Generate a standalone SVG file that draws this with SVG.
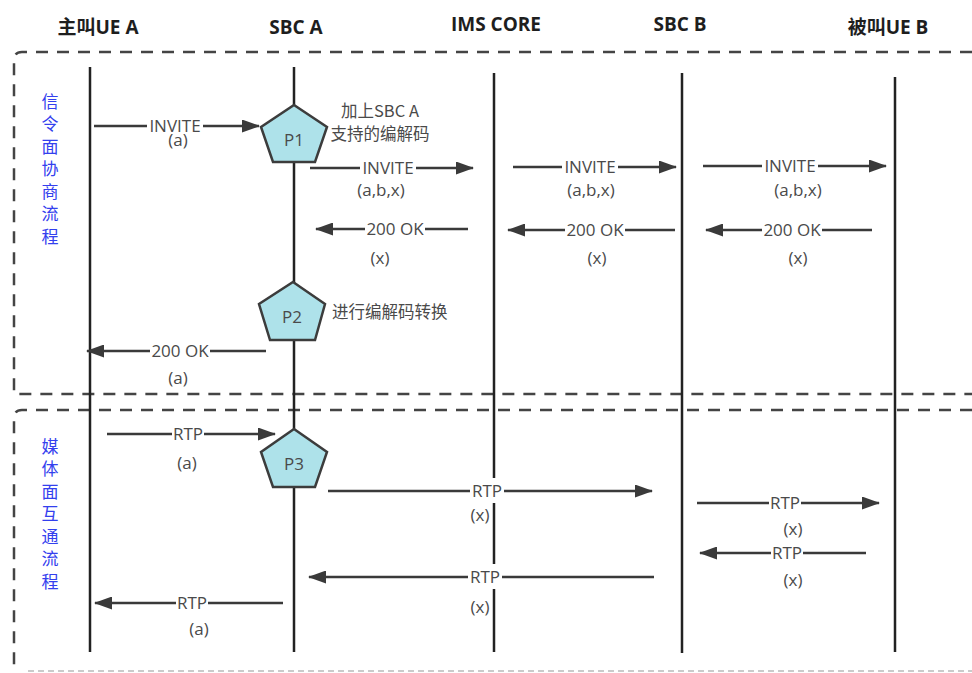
<svg xmlns="http://www.w3.org/2000/svg" width="972" height="673" viewBox="0 0 972 673">
<style>
.hd{font-family:"Open Sans","Noto Sans CJK SC",sans-serif;font-weight:bold;font-size:19px;fill:#1e1e1e;text-anchor:middle}
.lb{font-family:"Open Sans","Noto Sans CJK SC",sans-serif;font-size:17px;fill:#4a4a4a;text-anchor:middle}
.cn{font-family:"Noto Sans CJK SC",sans-serif;font-size:16.5px;fill:#4a4a4a}
.side{font-family:"Noto Sans CJK SC",sans-serif;font-size:17px;fill:#3340ee;writing-mode:vertical-rl;letter-spacing:5.5px}
.life{stroke:#222;stroke-width:2.5;fill:none}
.box{stroke:#444;stroke-width:2.5;fill:none;stroke-dasharray:12 9}
.ar{stroke:#3a3a3a;stroke-width:2.5;fill:none;marker-end:url(#ah)}
.bg{fill:#fff}
.pent{fill:#aee2ea;stroke:#3c3c3c;stroke-width:2.5;stroke-linejoin:miter}
.pt{font-family:"Open Sans",sans-serif;font-size:17px;fill:#4a4a4a;text-anchor:middle}
</style>
<defs>
<marker id="ah" markerWidth="18" markerHeight="13" refX="17" refY="6.5" orient="auto" markerUnits="userSpaceOnUse">
<path d="M0,0 L18,6.5 L0,13 z" fill="#3a3a3a"/>
</marker>
</defs>
<rect width="972" height="673" fill="#fff"/>

<g id="frames">
<path class="box" d="M972,52 H22 Q14,52 14,60 V394 H972"/>
<path class="box" d="M972,410 H22 Q14,410 14,418 V673"/>
<path d="M28,671 H972" stroke="#bbb" stroke-width="1.5" stroke-dasharray="6 4" fill="none"/>
<text class="side" x="50" y="93">信令面协商流程</text>
<text class="side" x="50" y="438">媒体面互通流程</text>
</g>

<g id="ueA"><text class="hd" x="98" y="34">主叫UE A</text><line class="life" x1="90" y1="67" x2="90" y2="652"/></g>
<g id="sbcA"><text class="hd" x="296" y="34">SBC A</text><line class="life" x1="294" y1="67" x2="294" y2="652"/></g>
<g id="ims"><text class="hd" x="496" y="31">IMS CORE</text><line class="life" x1="494" y1="73" x2="494" y2="652"/></g>
<g id="sbcB"><text class="hd" x="680" y="31">SBC B</text><line class="life" x1="682" y1="73" x2="682" y2="653"/></g>
<g id="ueB"><text class="hd" x="888" y="34">被叫UE B</text><line class="life" x1="895" y1="77" x2="895" y2="652"/></g>

<g id="connectors">
<line class="ar" x1="94" y1="126" x2="259" y2="126"/>
<rect class="bg" x="147" y="118" width="56" height="16"/>
<text class="lb" x="175" y="132">INVITE</text>
<text class="lb" x="178" y="146">(a)</text>

<line class="ar" x1="310" y1="168" x2="473" y2="168"/>
<rect class="bg" x="360" y="160" width="56" height="16"/>
<text class="lb" x="388" y="174">INVITE</text>
<text class="lb" x="381" y="196">(a,b,x)</text>

<line class="ar" x1="513" y1="167" x2="676" y2="167"/>
<rect class="bg" x="562" y="159" width="56" height="16"/>
<text class="lb" x="590" y="173">INVITE</text>
<text class="lb" x="591" y="196">(a,b,x)</text>

<line class="ar" x1="703" y1="166" x2="886" y2="166"/>
<rect class="bg" x="762" y="158" width="56" height="16"/>
<text class="lb" x="790" y="172">INVITE</text>
<text class="lb" x="798" y="196">(a,b,x)</text>

<line class="ar" x1="872" y1="230" x2="706" y2="230"/>
<rect class="bg" x="762" y="222" width="60" height="16"/>
<text class="lb" x="792" y="236">200 OK</text>
<text class="lb" x="798" y="264">(x)</text>

<line class="ar" x1="675" y1="230" x2="508" y2="230"/>
<rect class="bg" x="565" y="222" width="60" height="16"/>
<text class="lb" x="595" y="236">200 OK</text>
<text class="lb" x="597" y="264">(x)</text>

<line class="ar" x1="468" y1="229" x2="316" y2="229"/>
<rect class="bg" x="365" y="221" width="60" height="16"/>
<text class="lb" x="395" y="235">200 OK</text>
<text class="lb" x="380" y="264">(x)</text>

<line class="ar" x1="266" y1="351" x2="87" y2="351"/>
<rect class="bg" x="150" y="343" width="60" height="16"/>
<text class="lb" x="180" y="357">200 OK</text>
<text class="lb" x="178" y="384">(a)</text>

<line class="ar" x1="107" y1="434" x2="275" y2="434"/>
<rect class="bg" x="172" y="426" width="32" height="16"/>
<text class="lb" x="188" y="440">RTP</text>
<text class="lb" x="187" y="469">(a)</text>

<line class="ar" x1="328" y1="491" x2="652" y2="491"/>
<rect class="bg" x="470" y="478" width="34" height="25"/>
<text class="lb" x="487" y="497">RTP</text>
<text class="lb" x="480" y="521">(x)</text>

<line class="ar" x1="697" y1="503" x2="879" y2="503"/>
<rect class="bg" x="769" y="495" width="32" height="16"/>
<text class="lb" x="785" y="509">RTP</text>
<text class="lb" x="793" y="535">(x)</text>

<line class="ar" x1="866" y1="553" x2="700" y2="553"/>
<rect class="bg" x="771" y="545" width="32" height="16"/>
<text class="lb" x="787" y="559">RTP</text>
<text class="lb" x="793" y="586">(x)</text>

<line class="ar" x1="654" y1="577" x2="309" y2="577"/>
<rect class="bg" x="468" y="564" width="34" height="25"/>
<text class="lb" x="485" y="583">RTP</text>
<text class="lb" x="480" y="613">(x)</text>

<line class="ar" x1="283" y1="603" x2="95" y2="603"/>
<rect class="bg" x="176" y="595" width="32" height="16"/>
<text class="lb" x="192" y="609">RTP</text>
<text class="lb" x="199" y="635">(a)</text>
</g>

<g id="P1">
<polygon class="pent" points="294,105 327,127 315,162 273,162 261,127"/>
<text class="pt" x="294" y="146">P1</text>
<text class="cn" x="380" y="117" text-anchor="middle">加上SBC A</text>
<text class="cn" x="380" y="140" text-anchor="middle">支持的编解码</text>
</g>
<g id="P2">
<polygon class="pent" points="293,282 325,304 315,340 270,340 259,304"/>
<text class="pt" x="292" y="323">P2</text>
<text class="cn" x="332" y="318">进行编解码转换</text>
</g>
<g id="P3">
<polygon class="pent" points="294,429 327,452 315,487 273,487 261,452"/>
<text class="pt" x="294" y="470">P3</text>
</g>
</svg>
